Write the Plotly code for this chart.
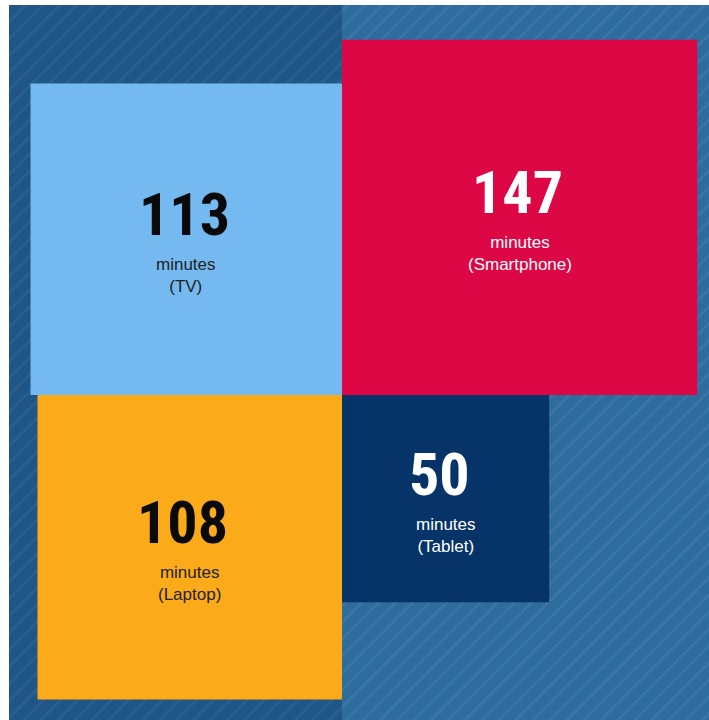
import math
import plotly.graph_objects as go

# Data
devices = ["TV", "Smartphone", "Laptop", "Tablet"]
minutes = [113, 147, 108, 50]
# quadrant placement: (x direction, y direction) relative to common corner
quadrant_x = [-1, 1, -1, 1]
quadrant_y = [1, 1, -1, -1]
fill_colors = ["#74b9f0", "#dc0744", "#fbaa19", "#063468"]
text_colors = ["#0a0a0a", "#ffffff", "#0a0a0a", "#ffffff"]
sub_colors = ["#222222", "#ffffff", "#222222", "#ffffff"]
num_xshift = [-2, -2, -7, -6]

W, H = 709, 720
ml, mt = 9, 5
px_per_unit = 29.3
cx_px, cy_px = 342, 395
x_range = [-(cx_px - ml) / px_per_unit, (W - cx_px) / px_per_unit]
y_range = [-(H - cy_px) / px_per_unit, (cy_px - mt) / px_per_unit]

fig = go.Figure()

# background halves with diagonal stripes
bg = [
    (x_range[0], 0, "#1f5686", "#336a9a"),
    (0, x_range[1], "#2e6c9e", "#467fb0"),
]
for x0, x1, bgc, fgc in bg:
    fig.add_trace(go.Scatter(
        x=[x0, x1, x1, x0, x0],
        y=[y_range[0], y_range[0], y_range[1], y_range[1], y_range[0]],
        mode="lines", fill="toself", line=dict(width=0),
        fillcolor=bgc,
        fillpattern=dict(shape="/", bgcolor=bgc, fgcolor=fgc, size=12, solidity=0.22),
        hoverinfo="skip", showlegend=False,
    ))

for dev, val, qx, qy, fc, tc, sc, xs in zip(devices, minutes, quadrant_x, quadrant_y,
                                            fill_colors, text_colors, sub_colors, num_xshift):
    side = math.sqrt(val)
    xa, xb = sorted([0, qx * side])
    ya, yb = sorted([0, qy * side])
    fig.add_shape(type="rect", x0=xa, x1=xb, y0=ya, y1=yb,
                  fillcolor=fc, line=dict(width=0), layer="above")
    mx, my = (xa + xb) / 2, (ya + yb) / 2
    fig.add_annotation(x=mx, y=my, xshift=xs, yshift=-13, yanchor="bottom",
                       text=f"<b>{val}</b>", showarrow=False,
                       font=dict(family="Liberation Sans Narrow, Arial Narrow, Roboto Condensed, sans-serif",
                                 size=60, color=tc))
    fig.add_annotation(x=mx, y=my, yshift=-14, yanchor="top",
                       text=f"minutes<br>({dev})", showarrow=False,
                       font=dict(family="Arial, Liberation Sans, sans-serif", size=17, color=sc))

fig.update_xaxes(range=x_range, visible=False, showgrid=False, zeroline=False, fixedrange=True)
fig.update_yaxes(range=y_range, visible=False, showgrid=False, zeroline=False, fixedrange=True)
fig.update_layout(
    width=W, height=H,
    margin=dict(l=ml, r=0, t=mt, b=0, pad=0),
    paper_bgcolor="#ffffff", plot_bgcolor="#ffffff",
    showlegend=False,
)
fig.write_html("out.html")
